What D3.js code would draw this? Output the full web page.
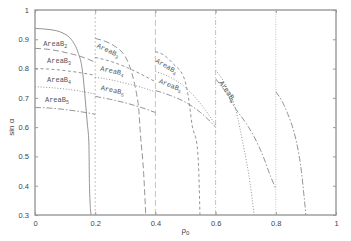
<!DOCTYPE html>
<html>
<head>
<meta charset="utf-8">
<script src="https://cdn.jsdelivr.net/npm/d3@7"></script>
<style>
  body { margin: 0; background: #fff; }
  svg { display: block; }
</style>
</head>
<body>
<div id="chart"></div>
<script>
// values: [rho0, sin alpha]
const solidB2 = [
  [[0, 0.937], [0.05, 0.933], [0.093, 0.921], [0.12, 0.9], [0.144, 0.852], [0.155, 0.81],
   [0.16, 0.771], [0.167, 0.693], [0.174, 0.61], [0.179, 0.546], [0.181, 0.402], [0.186, 0.30]]
];
const longB3 = [
  [[0, 0.869], [0.05, 0.865], [0.1, 0.855], [0.15, 0.842], [0.2, 0.822]],
  [[0.2, 0.903], [0.233, 0.893], [0.267, 0.875], [0.29, 0.855], [0.306, 0.829], [0.322, 0.784],
   [0.339, 0.704], [0.344, 0.67], [0.35, 0.58], [0.361, 0.442], [0.368, 0.30]]
];
const shortB4 = [
  [[0, 0.80], [0.05, 0.798], [0.1, 0.793], [0.15, 0.786], [0.2, 0.777]],
  [[0.2, 0.838], [0.25, 0.825], [0.3, 0.806], [0.35, 0.782], [0.4, 0.755]],
  [[0.4, 0.858], [0.43, 0.845], [0.46, 0.815], [0.494, 0.771], [0.51, 0.70], [0.522, 0.607],
   [0.539, 0.533], [0.545, 0.42], [0.548, 0.30]]
];
const dottedB5 = [
  [[0, 0.738], [0.05, 0.735], [0.1, 0.73], [0.15, 0.723], [0.2, 0.713]],
  [[0.2, 0.77], [0.25, 0.762], [0.3, 0.75], [0.35, 0.737], [0.4, 0.72]],
  [[0.4, 0.79], [0.45, 0.77], [0.5, 0.735], [0.55, 0.68], [0.6, 0.607]],
  [[0.6, 0.795], [0.63, 0.75], [0.667, 0.66], [0.693, 0.532], [0.71, 0.44], [0.728, 0.30]]
];
const dashdotB6 = [
  [[0, 0.667], [0.05, 0.665], [0.1, 0.66], [0.15, 0.653], [0.2, 0.644]],
  [[0.2, 0.705], [0.25, 0.695], [0.3, 0.683], [0.35, 0.668], [0.4, 0.65]],
  [[0.4, 0.725], [0.45, 0.708], [0.5, 0.685], [0.55, 0.65], [0.6, 0.60]],
  [[0.6, 0.765], [0.63, 0.725], [0.667, 0.662], [0.7, 0.615], [0.728, 0.567], [0.76, 0.495],
   [0.783, 0.431], [0.8, 0.39]],
  [[0.8, 0.721], [0.82, 0.69], [0.839, 0.647], [0.86, 0.585], [0.872, 0.533], [0.885, 0.45],
   [0.894, 0.363], [0.9, 0.30]]
];
const boundaries = [0.2, 0.4, 0.6, 0.8];
const xTicks = [0, 0.2, 0.4, 0.6, 0.8, 1];
const yTicks = [0.3, 0.4, 0.5, 0.6, 0.7, 0.8, 0.9, 1];
// area labels: subscript, rho0, sin alpha, tilt
const areaLabels = [
  [2, 0.067, 0.887, 0], [3, 0.08, 0.826, 0], [4, 0.08, 0.761, 0], [5, 0.073, 0.694, 0],
  [3, 0.243, 0.863, 25], [4, 0.257, 0.793, 12], [5, 0.258, 0.727, 12],
  [4, 0.437, 0.809, 30], [5, 0.45, 0.744, 22],
  [5, 0.64, 0.723, 55]
];

const w = 351, h = 241;
const m = { left: 35, right: 15, top: 10, bottom: 26 };

const svg = d3.select('#chart')
  .append('svg')
  .attr('width', w)
  .attr('height', h);

const x = d3.scaleLinear().domain([0, 1]).range([m.left, w - m.right]);
const y = d3.scaleLinear().domain([0.3, 1]).range([h - m.bottom, m.top]);

const line = d3.line()
  .x(d => x(d[0]))
  .y(d => y(d[1]))
  .curve(d3.curveMonotoneX);

// region boundaries
const vDash = ['2,2', '6,3', '5,2,1,2', '1,1.5'];
svg.selectAll('.bound')
  .data(boundaries)
  .enter()
  .append('line')
  .attr('class', 'bound')
  .attr('x1', d => x(d)).attr('x2', d => x(d))
  .attr('y1', y(0.3)).attr('y2', y(1))
  .attr('stroke', '#aaa')
  .attr('stroke-width', 0.7)
  .attr('stroke-dasharray', (d, i) => vDash[i]);

const series = [
  { segs: solidB2, dash: null },
  { segs: longB3, dash: '6,3' },
  { segs: shortB4, dash: '3,2.5' },
  { segs: dottedB5, dash: '1,1.8' },
  { segs: dashdotB6, dash: '6,2,1.5,2' }
];

series.forEach(s => {
  svg.append('g')
    .selectAll('path')
    .data(s.segs)
    .enter()
    .append('path')
    .attr('d', line)
    .attr('fill', 'none')
    .attr('stroke', '#888')
    .attr('stroke-width', 0.9)
    .attr('stroke-dasharray', s.dash);
});

// labels
const lab = svg.append('g')
  .selectAll('text')
  .data(areaLabels)
  .enter()
  .append('text')
  .attr('transform', d => `translate(${x(d[1])},${y(d[2])}) rotate(${d[3]})`)
  .attr('text-anchor', 'middle')
  .attr('dy', '0.35em')
  .style('font-family', '"Liberation Mono", monospace')
  .style('font-size', '7px')
  .attr('fill', '#555');
lab.append('tspan').text('AreaB');
lab.append('tspan')
  .attr('dy', '2')
  .style('font-size', '5px')
  .text(d => d[0]);

// frame
svg.append('rect')
  .attr('x', x(0)).attr('y', y(1))
  .attr('width', x(1) - x(0)).attr('height', y(0.3) - y(1))
  .attr('fill', 'none')
  .attr('stroke', '#999')
  .attr('stroke-width', 1.4);

const xAxis = d3.axisBottom(x).tickValues(xTicks).tickSize(-3).tickPadding(6)
  .tickFormat(d3.format('~g'));
const yAxis = d3.axisLeft(y).tickValues(yTicks).tickSize(-3).tickPadding(6)
  .tickFormat(d3.format('~g'));

svg.append('g')
  .attr('transform', `translate(0,${y(0.3)})`)
  .call(xAxis);
svg.append('g')
  .attr('transform', `translate(${x(0)},0)`)
  .call(yAxis);
svg.append('g')
  .attr('transform', `translate(${x(1)},0)`)
  .call(d3.axisRight(y).tickValues(yTicks).tickSize(-3).tickFormat(''));
svg.append('g')
  .attr('transform', `translate(0,${y(1)})`)
  .call(d3.axisTop(x).tickValues(xTicks).tickSize(-3).tickFormat(''));

svg.selectAll('.domain').remove();
svg.selectAll('.tick line').attr('stroke', '#999');
svg.selectAll('.tick text')
  .style('font-family', '"Liberation Sans", Arial, sans-serif')
  .style('font-size', '7.5px')
  .attr('fill', '#444');

svg.append('text')
  .attr('x', x(0.5))
  .attr('y', 233)
  .attr('text-anchor', 'middle')
  .style('font-family', '"Liberation Sans", Arial, sans-serif')
  .style('font-size', '8px')
  .attr('fill', '#444')
  .html('ρ<tspan dy="2" font-size="6">0</tspan>');

svg.append('text')
  .attr('transform', `translate(14,${y(0.6)})rotate(-90)`)
  .attr('text-anchor', 'middle')
  .style('font-family', '"Liberation Sans", Arial, sans-serif')
  .style('font-size', '8px')
  .attr('fill', '#444')
  .text('sin α');
</script>
</body>
</html>
